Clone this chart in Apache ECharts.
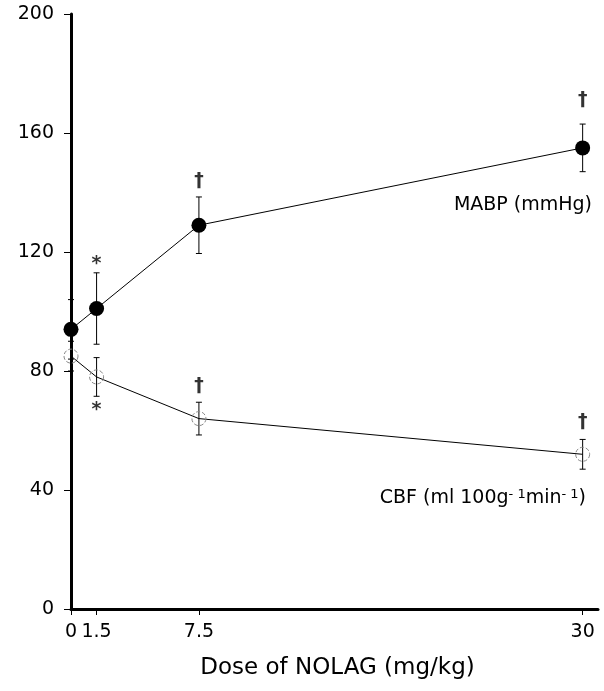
<!DOCTYPE html>
<html>
<head>
<meta charset="utf-8">
<script src="https://cdn.jsdelivr.net/npm/echarts@6/dist/echarts.min.js"></script>
<style>html,body{margin:0;padding:0;background:#fff}#c{width:604px;height:691px}</style>
</head>
<body>
<div id="c"></div>
<script>
const dose = [0, 1.5, 7.5, 30];
const xTicks = [0, 1.5, 7.5, 30];
const mabp = [94, 101, 129, 155];
const mabpSd = [10, 12, 9.5, 8];
const cbf = [85, 78, 64, 52];
const cbfSd = [5, 6.5, 5.5, 5];
const mabpMarkX = [1.5, 7.5, 30];
const mabpMarkY = [116, 144, 171];
const mabpMarkText = ['*', '†', '†'];
const cbfMarkX = [1.5, 7.5, 30];
const cbfMarkY = [67, 75, 63];
const cbfMarkText = ['*', '†', '†'];

const FONT = '"DejaVu Sans", Verdana, sans-serif';

function errData(v, sd) { return v.map((y, i) => [dose[i], y - sd[i], y + sd[i]]); }
function markData(xs, ys, ts) { return xs.map((x, i) => [x, ys[i], ts[i]]); }

function renderErr(params, api) {
  const x = api.value(0), lo = api.coord([x, api.value(1)]), hi = api.coord([x, api.value(2)]);
  const w = 3;
  const st = { stroke: '#000', lineWidth: 1 };
  return { type: 'group', children: [
    { type: 'line', shape: { x1: lo[0], y1: lo[1], x2: hi[0], y2: hi[1] }, style: st },
    { type: 'line', shape: { x1: lo[0] - w, y1: lo[1], x2: lo[0] + w, y2: lo[1] }, style: st },
    { type: 'line', shape: { x1: hi[0] - w, y1: hi[1], x2: hi[0] + w, y2: hi[1] }, style: st }
  ]};
}

const chart = echarts.init(document.getElementById('c'), null, { renderer: 'canvas' });
chart.setOption({
  animation: false,
  backgroundColor: '#fff',
  grid: { left: 71, right: 6, top: 14, bottom: 82, containLabel: false },
  xAxis: {
    type: 'value', min: 0, max: 30.9,
    axisLine: { lineStyle: { color: '#000', width: 3 } },
    splitLine: { show: false },
    axisTick: { show: true, length: 6, lineStyle: { color: '#000', width: 1 }, customValues: xTicks },
    axisLabel: { customValues: xTicks, color: '#000', fontSize: 19, fontFamily: FONT, margin: 14,
      formatter: v => String(v) },
    name: 'Dose of NOLAG (mg/kg)', nameLocation: 'middle', nameGap: 48,
    nameTextStyle: { color: '#000', fontSize: 23, fontFamily: FONT, padding: [0, 0, 0, 6] }
  },
  yAxis: {
    type: 'value', min: 0, max: 200, interval: 40,
    axisLine: { show: true, lineStyle: { color: '#000', width: 3 } },
    splitLine: { show: false },
    axisTick: { show: true, length: 7, lineStyle: { color: '#000', width: 1 } },
    axisLabel: { color: '#000', fontSize: 19, fontFamily: FONT, margin: 17 }
  },
  series: [
    { type: 'custom', renderItem: renderErr, data: errData(mabp, mabpSd), z: 3 },
    { type: 'custom', renderItem: renderErr, data: errData(cbf, cbfSd), z: 3 },
    { type: 'line', data: dose.map((x, i) => [x, mabp[i]]), symbol: 'circle', symbolSize: 15,
      lineStyle: { color: '#000', width: 1 }, itemStyle: { color: '#000' }, z: 4 },
    { type: 'line', data: dose.map((x, i) => [x, cbf[i]]), symbol: 'circle', symbolSize: 14,
      lineStyle: { color: '#000', width: 1 },
      itemStyle: { color: 'rgba(0,0,0,0)', borderColor: '#888', borderWidth: 1, borderType: 'dashed' }, z: 4 },
    { type: 'scatter', data: markData(mabpMarkX, mabpMarkY, mabpMarkText).concat(markData(cbfMarkX, cbfMarkY, cbfMarkText)),
      symbolSize: 1, itemStyle: { color: 'rgba(0,0,0,0)' },
      label: { show: true, position: 'inside', formatter: p => p.data[2], color: '#000',
        fontSize: 19, fontWeight: 'bold', fontFamily: FONT }, z: 5 }
  ],
  graphic: [
    { type: 'text', right: 12, top: 196, style: { text: 'MABP (mmHg)', fill: '#000', font: '19px ' + FONT } },
    { type: 'text', right: 18, top: 488, style: {
      text: 'CBF (ml 100g{sup|- 1}min{sup|- 1})', fill: '#000', font: '19px ' + FONT,
      rich: { sup: { fontSize: 13, fontFamily: FONT, verticalAlign: 'top', padding: [0, 0, 8, 0], fill: '#000' } }
    } }
  ]
});
</script>
</body>
</html>
